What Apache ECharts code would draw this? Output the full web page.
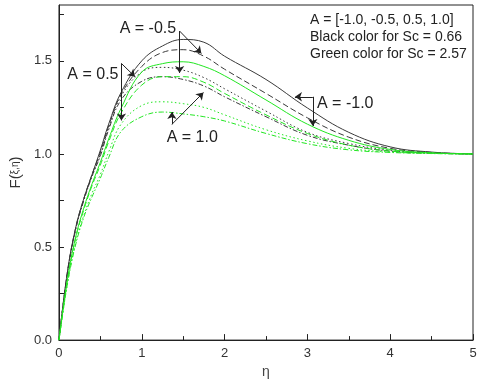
<!DOCTYPE html>
<html>
<head>
<meta charset="utf-8">
<script src="https://cdn.jsdelivr.net/npm/echarts@6/dist/echarts.min.js"></script>
<style>
  html, body { margin: 0; padding: 0; background: #fff; }
  #chart { width: 480px; height: 384px; }
</style>
</head>
<body>
<div id="chart"></div>
<script>
// eta grid and F values
const eta = [0, 0.1, 0.2, 0.3, 0.4, 0.5, 0.6, 0.75, 1, 1.25, 1.5, 1.75, 2, 2.5, 3, 3.5, 4, 4.5, 5];

// Sc = 0.66 (black)
const blackA_m10 = [0, 0.36, 0.60, 0.76, 0.89, 1.02, 1.16, 1.33, 1.50, 1.58, 1.615, 1.60, 1.525, 1.40, 1.247, 1.116, 1.038, 1.01, 1.0];
const blackA_m05 = [0, 0.36, 0.60, 0.76, 0.89, 1.01, 1.15, 1.32, 1.47, 1.545, 1.56, 1.525, 1.455, 1.325, 1.194, 1.09, 1.03, 1.008, 1.0];
const blackA_p05 = [0, 0.355, 0.595, 0.755, 0.885, 1.0, 1.14, 1.31, 1.44, 1.465, 1.45, 1.41, 1.35, 1.23, 1.116, 1.056, 1.02, 1.005, 1.0];
const blackA_p10 = [0, 0.35, 0.59, 0.75, 0.88, 0.99, 1.13, 1.29, 1.39, 1.415, 1.40, 1.365, 1.307, 1.20, 1.10, 1.047, 1.015, 1.004, 1.0];

// Sc = 2.57 (green)
const greenA_m10 = [0, 0.32, 0.55, 0.71, 0.84, 0.955, 1.08, 1.245, 1.44, 1.485, 1.495, 1.47, 1.42, 1.29, 1.16, 1.073, 1.024, 1.006, 1.0];
const greenA_m05 = [0, 0.315, 0.545, 0.70, 0.83, 0.94, 1.065, 1.22, 1.37, 1.415, 1.415, 1.385, 1.325, 1.21, 1.11, 1.047, 1.015, 1.004, 1.0];
const greenA_p05 = [0, 0.30, 0.52, 0.67, 0.79, 0.89, 1.01, 1.16, 1.26, 1.28, 1.27, 1.25, 1.21, 1.13, 1.07, 1.03, 1.01, 1.003, 1.0];
const greenA_p10 = [0, 0.295, 0.51, 0.66, 0.77, 0.87, 0.98, 1.12, 1.20, 1.225, 1.215, 1.20, 1.177, 1.11, 1.055, 1.022, 1.008, 1.002, 1.0];

const legendLines = ["A = [-1.0, -0.5, 0.5, 1.0]", "Black color for Sc = 0.66", "Green color for Sc = 2.57"];

const BLACK = "#3a3a3a";
const GREEN = "#22e622";
const DASH = [6, 3];
const DOT = [1.5, 2.5];
const DASHDOT = [5, 2, 1.5, 2];

function pairs(ys) {
    return eta.map(function (x, i) { return [x, ys[i]]; });
}

function curve(name, ys, color, type) {
    return {
        name: name,
        type: "line",
        data: pairs(ys),
        smooth: 0.4,
        showSymbol: false,
        lineStyle: { color: color, width: 1, type: type },
        z: 2,
    };
}

function arrow(from, to) {
    return [{ coord: from }, { coord: to }];
}

const chart = echarts.init(document.getElementById("chart"));

const option = {
    animation: false,
    grid: {
        left: 47, right: 7, top: 5, bottom: 33,
        show: true, borderColor: "#222", borderWidth: 1,
    },
    xAxis: {
        type: "value",
        min: 0, max: 5, interval: 1,
        name: "η",
        nameLocation: "middle",
        nameGap: 17,
        nameTextStyle: { fontSize: 14, color: "#444", fontFamily: "Liberation Sans" },
        axisLine: { lineStyle: { color: "#222" } },
        axisTick: { inside: true, length: 6, lineStyle: { color: "#222" } },
        minorTick: { show: true, splitNumber: 2, length: 4, lineStyle: { color: "#222" } },
        axisLabel: { fontSize: 13, color: "#333", margin: 7, fontFamily: "Liberation Sans" },
        splitLine: { show: false },
    },
    yAxis: {
        type: "value",
        min: 0, max: 1.8, interval: 0.25,
        name: "{a|F(}{b|ξ,η}{a|)}",
        nameLocation: "middle",
        nameGap: 32,
        nameTextStyle: {
            rich: {
                a: { fontSize: 15, color: "#333", fontFamily: "Liberation Sans" },
                b: { fontSize: 10, color: "#333", fontFamily: "Liberation Sans" },
            },
        },
        axisLine: { lineStyle: { color: "#222" } },
        axisTick: { inside: true, length: 5, lineStyle: { color: "#222" } },
        axisLabel: {
            fontSize: 13, color: "#333", margin: 7, fontFamily: "Liberation Sans",
            showMaxLabel: false,
            formatter: function (v) {
                return Math.abs(v / 0.5 - Math.round(v / 0.5)) < 1e-6 ? v.toFixed(1) : "";
            },
        },
        splitLine: { show: false },
    },
    series: [
        curve("A=-1.0, Sc=0.66", blackA_m10, BLACK, "solid"),
        curve("A=-0.5, Sc=0.66", blackA_m05, BLACK, DASH),
        curve("A=0.5, Sc=0.66", blackA_p05, BLACK, DOT),
        curve("A=1.0, Sc=0.66", blackA_p10, BLACK, DASHDOT),
        curve("A=-1.0, Sc=2.57", greenA_m10, GREEN, "solid"),
        curve("A=-0.5, Sc=2.57", greenA_m05, GREEN, DASH),
        curve("A=0.5, Sc=2.57", greenA_p05, GREEN, DOT),
        curve("A=1.0, Sc=2.57", greenA_p10, GREEN, DASHDOT),
        {
            // annotation brackets and labels
            name: "notes",
            type: "line",
            data: [],
            silent: true,
            z: 5,
            markLine: {
                silent: true,
                symbol: ["none", "arrow"],
                symbolSize: 7,
                label: { show: false },
                lineStyle: { color: "#222", width: 1, type: "solid" },
                data: [
                    arrow([1.457, 1.66], [1.457, 1.435]),
                    arrow([1.457, 1.66], [1.72, 1.54]),
                    arrow([0.754, 1.486], [0.754, 1.18]),
                    arrow([0.754, 1.486], [0.918, 1.415]),
                    arrow([1.364, 1.159], [1.364, 1.225]),
                    arrow([1.364, 1.159], [1.745, 1.33]),
                    arrow([3.066, 1.307], [2.85, 1.307]),
                    arrow([3.066, 1.307], [3.066, 1.15]),
                ],
            },
            markPoint: {
                silent: true,
                symbol: "circle",
                symbolSize: 0,
                label: {
                    show: true, position: "inside",
                    fontSize: 16, color: "#222", fontFamily: "Liberation Sans",
                    formatter: "{b}",
                },
                data: [
                    { name: "A = -0.5", coord: [1.074, 1.675] },
                    { name: "A = 0.5", coord: [0.41, 1.425] },
                    { name: "A = 1.0", coord: [1.61, 1.09] },
                    { name: "A = -1.0", coord: [3.457, 1.273] },
                ],
            },
        },
    ],
    graphic: [
        {
            type: "text",
            left: 310,
            top: 12,
            style: {
                text: legendLines.join("\n"),
                fontSize: 14,
                lineHeight: 17,
                fill: "#222",
                fontFamily: "Liberation Sans",
            },
        },
    ],
};

chart.setOption(option);
</script>
</body>
</html>
